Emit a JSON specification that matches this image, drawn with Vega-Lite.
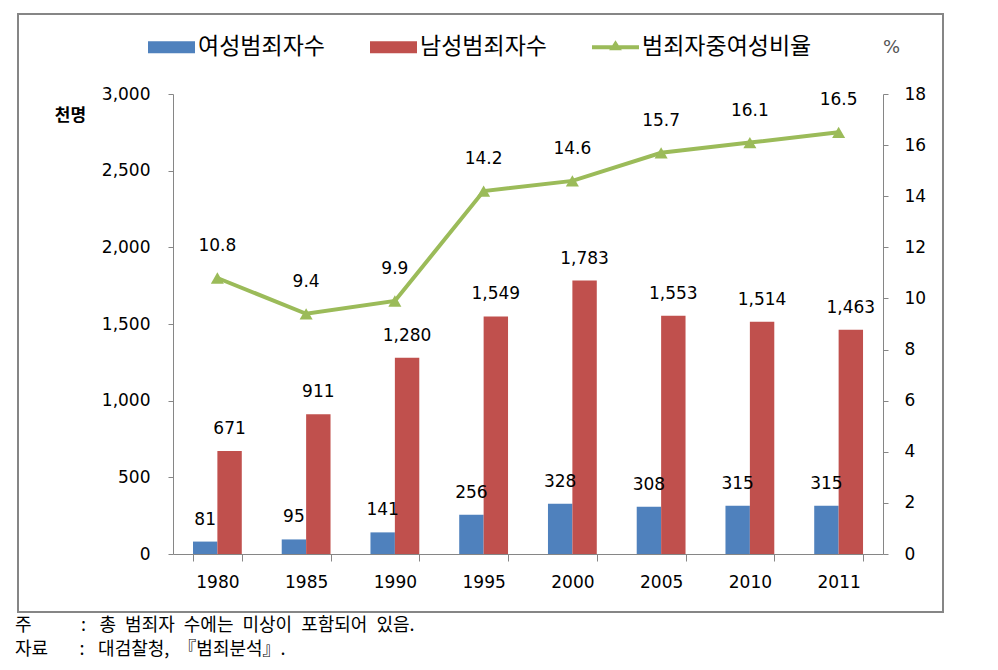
{
  "$schema": "https://vega.github.io/schema/vega-lite/v6.json",
  "width": 925,
  "height": 598,
  "autosize": {"type": "none"},
  "padding": {"left": 18, "top": 14, "right": 55, "bottom": 58},
  "background": "white",
  "title": {
    "text": ["주\u2003\u2003\u2002\u2005:\u2002\u2005총\u2002범죄자\u2002수에는\u2002미상이\u2002포함되어\u2002있음.", "자료\u2003\u2002\u2005:\u2002\u2005대검찰청,\u2002『범죄분석』."],
    "orient": "bottom",
    "anchor": "start",
    "frame": "group",
    "offset": 5,
    "dx": -3,
    "font": "Noto Sans CJK KR",
    "fontSize": 18,
    "fontWeight": "normal",
    "lineHeight": 24,
    "color": "#000000"
  },
  "data": {
    "values": [
      {"year": "1980", "series": "여성범죄자수", "value": 81},
      {"year": "1985", "series": "여성범죄자수", "value": 95},
      {"year": "1990", "series": "여성범죄자수", "value": 141},
      {"year": "1995", "series": "여성범죄자수", "value": 256},
      {"year": "2000", "series": "여성범죄자수", "value": 328},
      {"year": "2005", "series": "여성범죄자수", "value": 308},
      {"year": "2010", "series": "여성범죄자수", "value": 315},
      {"year": "2011", "series": "여성범죄자수", "value": 315},
      {"year": "1980", "series": "남성범죄자수", "value": 671},
      {"year": "1985", "series": "남성범죄자수", "value": 911},
      {"year": "1990", "series": "남성범죄자수", "value": 1280},
      {"year": "1995", "series": "남성범죄자수", "value": 1549},
      {"year": "2000", "series": "남성범죄자수", "value": 1783},
      {"year": "2005", "series": "남성범죄자수", "value": 1553},
      {"year": "2010", "series": "남성범죄자수", "value": 1514},
      {"year": "2011", "series": "남성범죄자수", "value": 1463},
      {"year": "1980", "series": "범죄자중여성비율", "value": 10.8},
      {"year": "1985", "series": "범죄자중여성비율", "value": 9.4},
      {"year": "1990", "series": "범죄자중여성비율", "value": 9.9},
      {"year": "1995", "series": "범죄자중여성비율", "value": 14.2},
      {"year": "2000", "series": "범죄자중여성비율", "value": 14.6},
      {"year": "2005", "series": "범죄자중여성비율", "value": 15.7},
      {"year": "2010", "series": "범죄자중여성비율", "value": 16.1},
      {"year": "2011", "series": "범죄자중여성비율", "value": 16.5}
    ]
  },
  "layer": [
    {
      "transform": [{"filter": "datum.series !== '범죄자중여성비율'"}],
      "encoding": {
        "x": {
          "field": "year",
          "type": "nominal",
          "sort": null,
          "scale": {"range": [155, 865], "paddingInner": 0.45, "paddingOuter": 0.225},
          "axis": {
            "orient": "bottom",
            "offset": -58,
            "title": null,
            "labelAngle": 0,
            "tickBand": "extent",
            "tickSize": 7,
            "labelPadding": 13
          }
        },
        "xOffset": {
          "field": "series",
          "type": "nominal",
          "sort": ["여성범죄자수", "남성범죄자수"],
          "scale": {"paddingInner": 0, "paddingOuter": 0}
        },
        "y": {
          "field": "value",
          "type": "quantitative",
          "scale": {"domain": [0, 3000], "range": [540, 80], "nice": false},
          "axis": {
            "orient": "left",
            "offset": -155,
            "values": [0, 500, 1000, 1500, 2000, 2500, 3000],
            "format": ",.0f",
            "tickSize": 5,
            "labelPadding": 18,
            "title": "천명",
            "titleAngle": 0,
            "titleX": -103,
            "titleY": 101,
            "titleAlign": "center",
            "titleBaseline": "middle",
            "titleFont": "Noto Sans CJK KR",
            "titleFontSize": 17,
            "titleFontWeight": "bold",
            "titleColor": "#000000"
          }
        },
        "color": {
          "field": "series",
          "type": "nominal",
          "scale": {
            "domain": ["여성범죄자수", "남성범죄자수", "범죄자중여성비율"],
            "range": ["#4F81BD", "#C0504D", "#9BBB59"]
          },
          "legend": {
            "orient": "none",
            "legendX": 130,
            "legendY": 9.5,
            "direction": "horizontal",
            "title": null,
            "padding": 0,
            "columnPadding": 45,
            "symbolSize": 2209,
            "labelOffset": 3,
            "labelLimit": 400,
            "labelFont": "Noto Sans CJK KR",
            "labelFontSize": 23,
            "labelColor": "#000000",
            "encode": {
              "symbols": {
                "update": {
                  "shape": {"signal": "datum.value === '범죄자중여성비율' ? 'M-1,-0.085H1V0.085H-1ZM0,-0.3L0.27,0.13L-0.27,0.13Z' : 'M-1,-0.26H1V0.26H-1Z'"},
                  "fill": {"signal": "datum.value === '여성범죄자수' ? '#4F81BD' : datum.value === '남성범죄자수' ? '#C0504D' : '#9BBB59'"},
                  "fillOpacity": {"value": 1},
                  "opacity": {"value": 1},
                  "stroke": {"value": "transparent"},
                  "strokeWidth": {"value": 0}
                }
              }
            }
          }
        }
      },
      "layer": [
        {"mark": {"type": "bar"}},
        {
          "mark": {"type": "text", "dy": -22, "font": "DejaVu Sans", "fontSize": 17, "color": "#000000"},
          "encoding": {
            "text": {"field": "value", "type": "quantitative", "format": ","},
            "color": {"value": "#000000"}
          }
        }
      ]
    },
    {
      "transform": [{"filter": "datum.series === '범죄자중여성비율'"}],
      "encoding": {
        "x": {"field": "year", "type": "nominal", "sort": null},
        "y": {
          "field": "value",
          "type": "quantitative",
          "scale": {"domain": [0, 18], "range": [540, 80], "nice": false},
          "axis": {
            "orient": "right",
            "offset": -60,
            "values": [0, 2, 4, 6, 8, 10, 12, 14, 16, 18],
            "format": "d",
            "tickSize": 5,
            "labelPadding": 16,
            "title": "%",
            "titleAngle": 0,
            "titleX": 8,
            "titleY": 33,
            "titleAlign": "center",
            "titleBaseline": "middle",
            "titleFont": "DejaVu Sans",
            "titleFontSize": 18,
            "titleFontWeight": "normal",
            "titleColor": "#555555"
          }
        }
      },
      "layer": [
        {
          "mark": {"type": "line", "strokeWidth": 4, "point": {"shape": "triangle-up", "size": 170, "filled": true}},
          "encoding": {
            "color": {
              "field": "series",
              "type": "nominal",
              "legend": {
                "orient": "none",
                "legendX": 130,
                "legendY": 9.5,
                "direction": "horizontal",
                "title": null,
                "padding": 0,
                "columnPadding": 45,
                "symbolSize": 2209,
                "labelOffset": 3,
                "labelLimit": 400,
                "labelFont": "Noto Sans CJK KR",
                "labelFontSize": 23,
                "labelColor": "#000000"
              }
            }
          }
        },
        {
          "mark": {"type": "text", "dy": -32, "font": "DejaVu Sans", "fontSize": 17, "color": "#000000"},
          "encoding": {
            "text": {"field": "value", "type": "quantitative", "format": ".1f"}
          }
        }
      ]
    }
  ],
  "resolve": {"scale": {"y": "independent"}},
  "config": {
    "view": {"stroke": "#868686", "strokeWidth": 2},
    "axis": {
      "grid": false,
      "labelFont": "DejaVu Sans",
      "labelFontSize": 17,
      "labelColor": "#000000",
      "domainColor": "#868686",
      "domainWidth": 1,
      "tickColor": "#868686",
      "tickWidth": 1
    }
  }
}
